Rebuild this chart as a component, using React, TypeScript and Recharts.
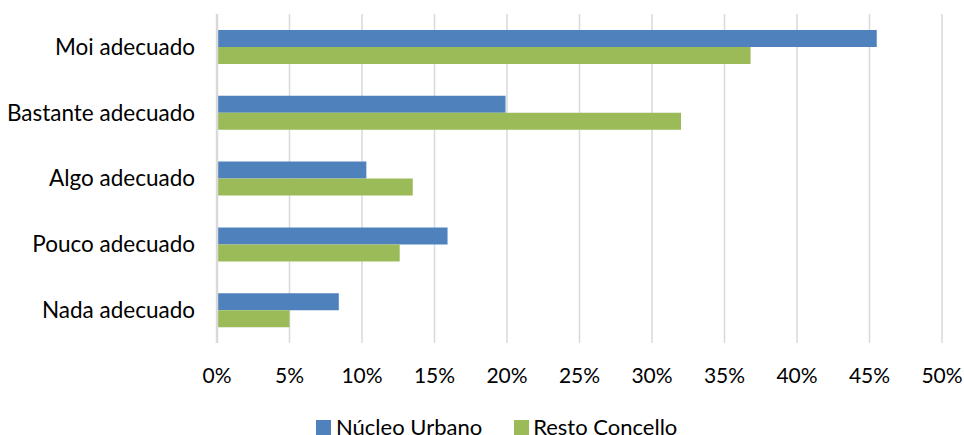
import React from 'react';
import { BarChart, Bar, XAxis, YAxis, CartesianGrid, Legend } from 'recharts';

const categories = ['Moi adecuado', 'Bastante adecuado', 'Algo adecuado', 'Pouco adecuado', 'Nada adecuado'];
const nucleoUrbano = [45.5, 19.9, 10.3, 15.9, 8.4];
const restoConcello = [36.8, 32.0, 13.5, 12.6, 5.0];
const seriesNames = ['Núcleo Urbano', 'Resto Concello'];
const xTicks = [0, 5, 10, 15, 20, 25, 30, 35, 40, 45, 50];

const BLUE = '#4F81BD';
const GREEN = '#9BBB59';
const FONT = 'Lato, "Open Sans", sans-serif';

const data = categories.map((c, i) => ({
  name: c,
  nucleo: nucleoUrbano[i],
  resto: restoConcello[i],
}));

const LegendContent = () => (
  <div style={{ display: 'flex', alignItems: 'center', fontFamily: FONT, fontSize: 22, lineHeight: '22px', color: '#000', height: 22, whiteSpace: 'nowrap' }}>
    <span style={{ width: 15, height: 15, background: BLUE, display: 'inline-block', marginRight: 5 }} />
    <span style={{ marginRight: 32 }}>{seriesNames[0]}</span>
    <span style={{ width: 15, height: 15, background: GREEN, display: 'inline-block', marginRight: 4 }} />
    <span>{seriesNames[1]}</span>
  </div>
);

export default function App() {
  return (
    <div style={{ position: 'absolute', left: 0, top: 0 }}>
      <BarChart
        width={964}
        height={435}
        data={data}
        layout="vertical"
        margin={{ top: 14, right: 22, left: 0, bottom: 30 }}
        barGap={0}
      >
        <CartesianGrid horizontal={false} stroke="#D9D9D9" strokeWidth={1.5} />
        <XAxis
          type="number"
          domain={[0, 50]}
          ticks={xTicks}
          tickFormatter={(v) => `${v}%`}
          axisLine={false}
          tickLine={false}
          tickSize={0}
          tickMargin={25}
          height={40}
          interval={0}
          tick={{ fontFamily: FONT, fontSize: 21, fill: '#000' }}
        />
        <YAxis
          type="category"
          dataKey="name"
          width={217}
          axisLine={{ stroke: '#D9D9D9', strokeWidth: 2.5 }}
          tickLine={false}
          tickSize={0}
          tickMargin={22}
          interval={0}
          tick={{ fontFamily: FONT, fontSize: 22.5, fill: '#000' }}
        />
        <Legend
          content={<LegendContent />}
          wrapperStyle={{ top: 416, left: 316, width: 'auto', height: 22 }}
        />
        <Bar dataKey="nucleo" name={seriesNames[0]} fill={BLUE} barSize={17} isAnimationActive={false} />
        <Bar dataKey="resto" name={seriesNames[1]} fill={GREEN} barSize={17} isAnimationActive={false} />
      </BarChart>
    </div>
  );
}
